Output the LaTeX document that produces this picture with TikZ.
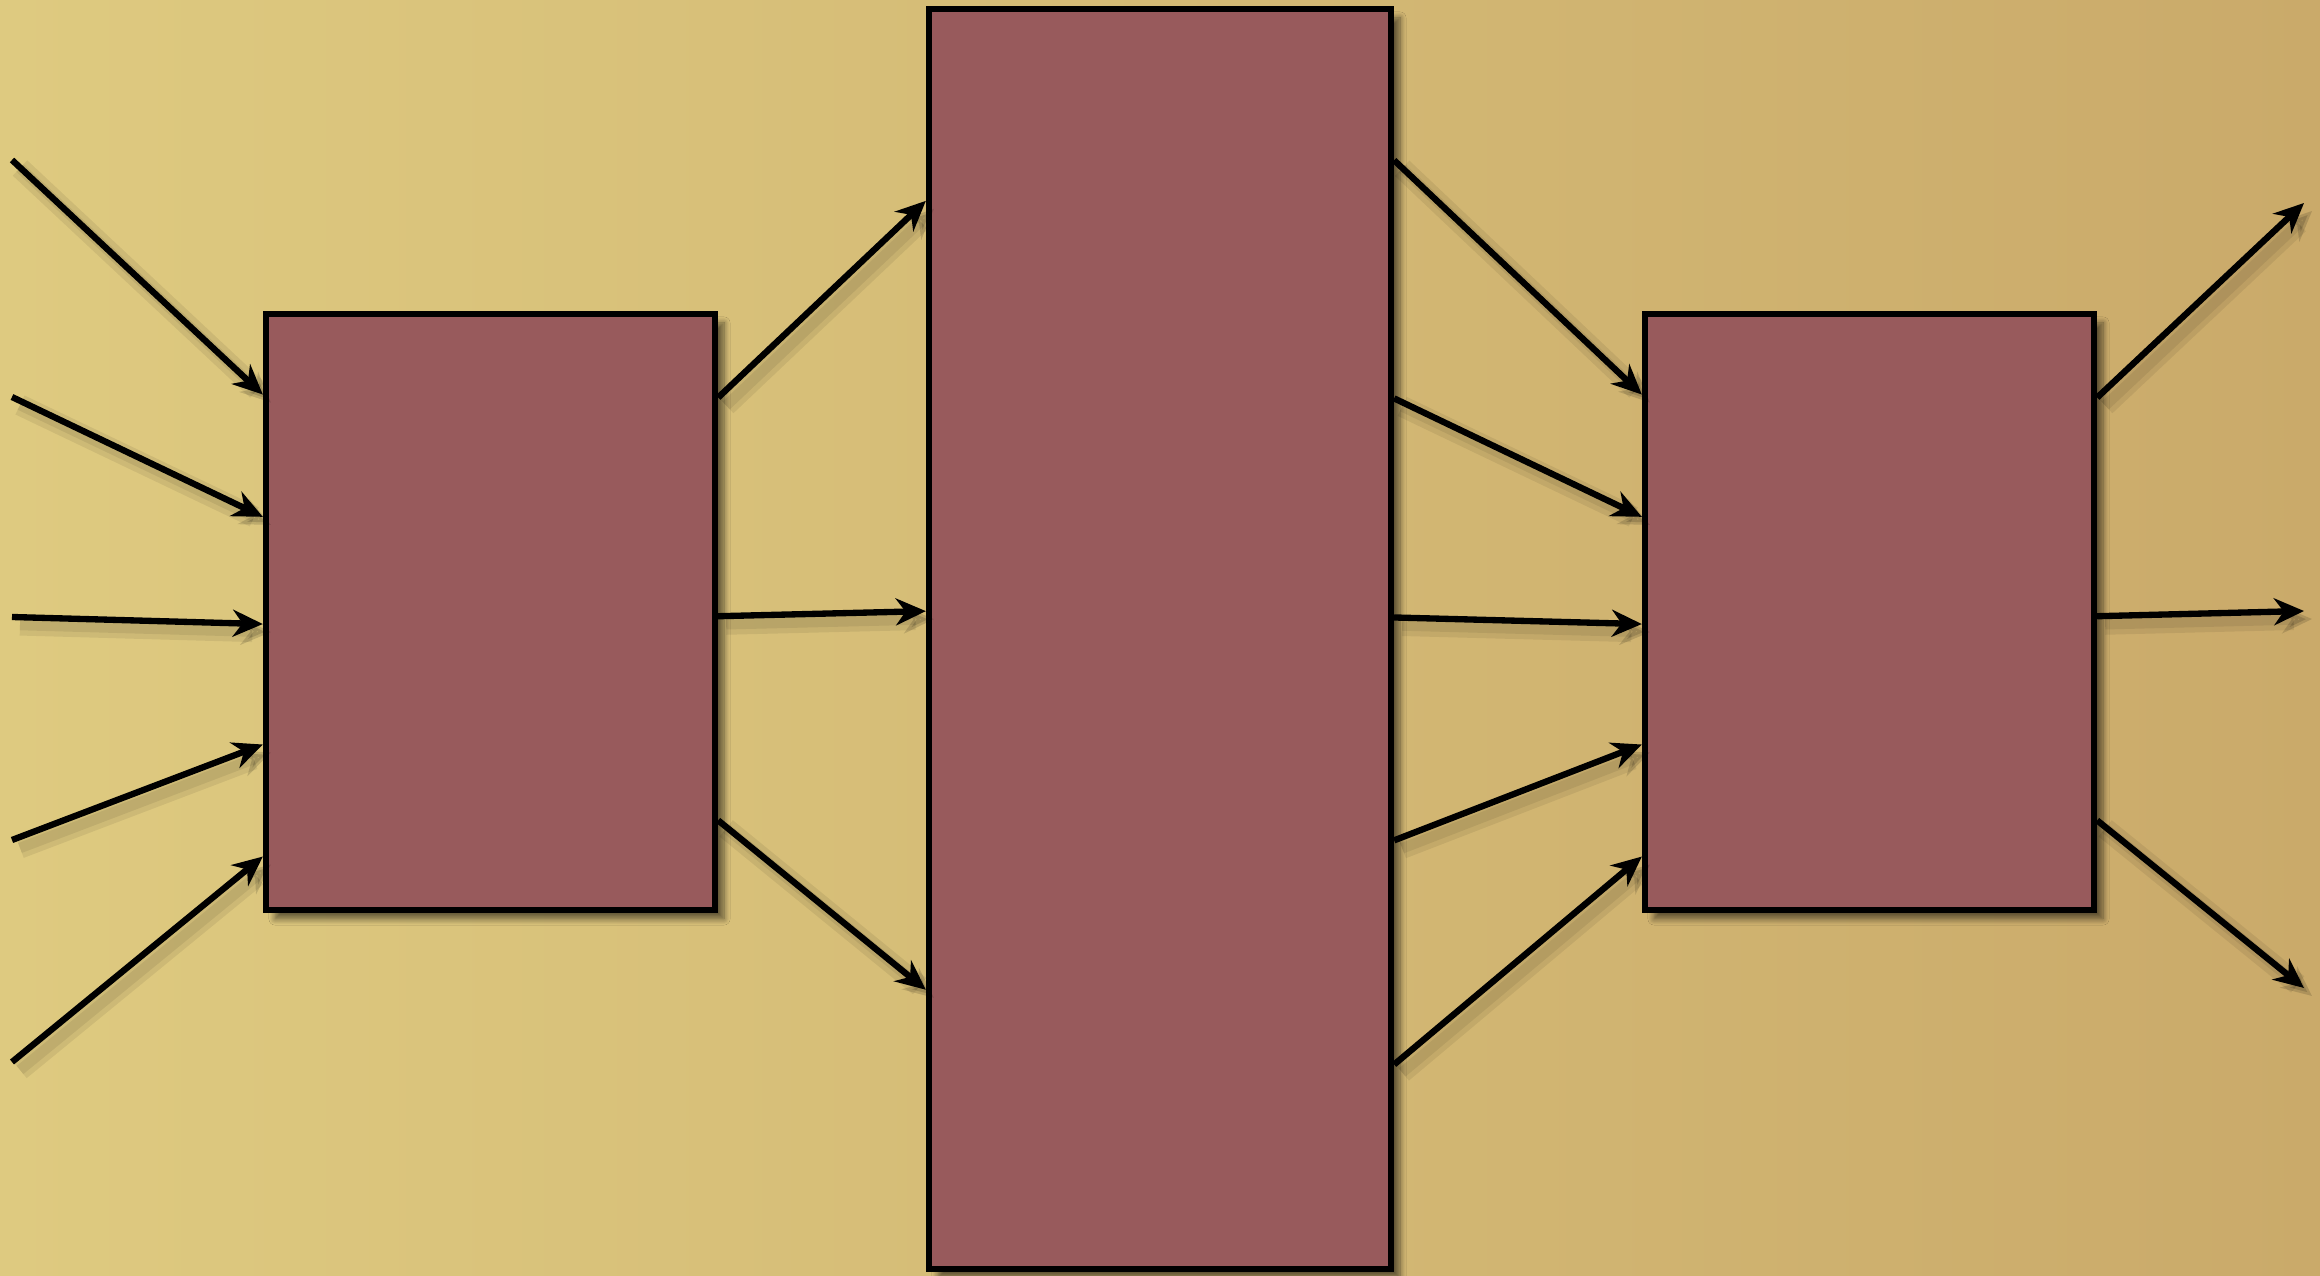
\documentclass[tikz,border=0pt]{standalone}
\usepackage{tikz}
\usetikzlibrary{positioning,arrows.meta,calc,shadows.blur}
\definecolor{paperlight}{RGB}{222,202,128}
\definecolor{paperdark}{RGB}{202,170,106}
\definecolor{brick}{RGB}{152,90,92}

\begin{document}
\begin{tikzpicture}[>={Stealth[length=0.3cm,width=0.27cm]},
    layer/.style={draw,line width=1.8pt,fill=brick,inner sep=0pt,
      blur shadow={shadow xshift=0.09cm,shadow yshift=-0.09cm,shadow blur steps=8,shadow opacity=55}},
    arr/.style={->,line width=1.8pt,
      preaction={draw,black,opacity=0.07,line width=6pt,transform canvas={shift={(0.08,-0.08)}}},
      preaction={draw,black,opacity=0.07,line width=3pt,transform canvas={shift={(0.08,-0.08)}}}}]
    \useasboundingbox (0,0) rectangle (23.2,12.75);
    \fill[left color=paperlight,right color=paperdark] (0,0) rectangle (23.2,12.75);
    % the three blocks
    \node[layer,minimum width=4.49cm,minimum height=5.96cm] (lb) at (4.905,6.63) {};
    \node[layer,minimum width=4.62cm,minimum height=12.6cm] (mb) at (11.6,6.36) {};
    \node[layer,minimum width=4.49cm,minimum height=5.96cm] (rb) at (18.695,6.63) {};
    % free ends
    \coordinate (in1) at (0.12,11.15); \coordinate (in2) at (0.12,8.78);
    \coordinate (in3) at (0.12,6.58); \coordinate (in4) at (0.12,4.35);
    \coordinate (in5) at (0.12,2.13);
    \coordinate (out1) at (23.04,10.72); \coordinate (out2) at (23.04,6.64);
    \coordinate (out3) at (23.04,2.87);
    % inputs
    \draw[arr] (in1) -- ($(lb.north west)!.139!(lb.south west)$);
    \draw[arr] (in2) -- ($(lb.north west)!.342!(lb.south west)$);
    \draw[arr] (in3) -- ($(lb.north west)!.52!(lb.south west)$);
    \draw[arr] (in4) -- ($(lb.north west)!.72!(lb.south west)$);
    \draw[arr] (in5) -- ($(lb.north west)!.906!(lb.south west)$);
    % left block to middle block
    \draw[arr] ($(lb.north east)!.144!(lb.south east)$) -- ($(mb.north west)!.154!(mb.south west)$);
    \draw[arr] ($(lb.north east)!.507!(lb.south east)$) -- ($(mb.north west)!.478!(mb.south west)$);
    \draw[arr] ($(lb.north east)!.846!(lb.south east)$) -- ($(mb.north west)!.777!(mb.south west)$);
    % middle block to right block
    \draw[arr] ($(mb.north east)!.122!(mb.south east)$) -- ($(rb.north west)!.139!(rb.south west)$);
    \draw[arr] ($(mb.north east)!.31!(mb.south east)$) -- ($(rb.north west)!.342!(rb.south west)$);
    \draw[arr] ($(mb.north east)!.483!(mb.south east)$) -- ($(rb.north west)!.52!(rb.south west)$);
    \draw[arr] ($(mb.north east)!.659!(mb.south east)$) -- ($(rb.north west)!.72!(rb.south west)$);
    \draw[arr] ($(mb.north east)!.836!(mb.south east)$) -- ($(rb.north west)!.906!(rb.south west)$);
    % outputs
    \draw[arr] ($(rb.north east)!.144!(rb.south east)$) -- (out1);
    \draw[arr] ($(rb.north east)!.507!(rb.south east)$) -- (out2);
    \draw[arr] ($(rb.north east)!.846!(rb.south east)$) -- (out3);
  \end{tikzpicture}
\end{document}
